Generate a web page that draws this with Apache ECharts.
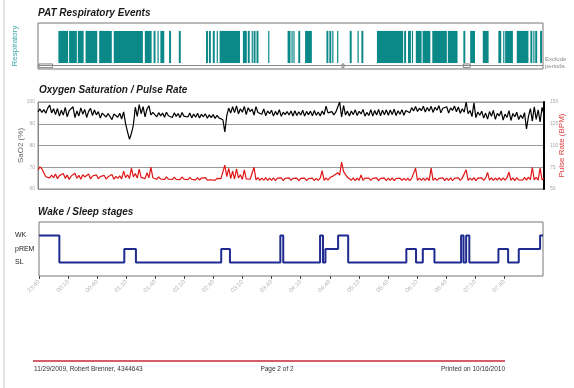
<!DOCTYPE html>
<html><head><meta charset="utf-8">
<script src="https://cdn.jsdelivr.net/npm/echarts@6/dist/echarts.min.js"></script>
<style>html,body{margin:0;padding:0;background:#fff}#c{width:574px;height:388px}</style>
</head><body><div id="c"></div>
<script>
// ---- data (time in minutes from recording start) ----
const tickMinutes = [0,30,60,90,120,150,180,210,240,270,300,330,360,390,420,450,480];
const tickLabels = ['23:40','00:10','00:40','01:10','01:40','02:10','02:40','03:10','03:40','04:10','04:40','05:10','05:40','06:10','06:40','07:10','07:40'];
const respEvents = [[21,31],[32,40],[41,47],[49,61],[63,76],[78,108],[110,117],[119,121],[123,124],[126,130],[135,137],[145,147],
 [173,175],[176,178],[180,182],[184,185],[187,208],[211,215],[216,218],[220,221],[222,224],[225,227],[237,238],
 [257,260],[261,262],[263,264],[268,270],[275,282],[297,299],[300,302],[303,304],[308,309],[321,323],[329,330],[333,335],
 [349,376],[377,379],[381,384],[385,386],[389,395],[396,404],[406,421],[422,432],[438,440],[445,450],[458,464],
 [474,477],[479,480],[481,489],[493,505],[507,509],[510,511],[512,514],[517,519]];
const excludePeriods = [[1,15],[313,314],[438,445]];
const sampleStep = 2;
const sao2 = [95.5,96.8,95.2,96.5,94.8,97.2,98.6,95.0,96.9,94.2,
97.0,93.5,96.2,94.0,97.5,93.2,96.0,95.1,97.8,92.8,
95.9,93.6,97.3,94.4,96.6,92.9,95.7,97.1,93.8,96.3,
94.1,95.6,92.6,94.9,95.8,93.1,94.7,95.4,91.9,94.5,
95.3,93.0,94.8,92.2,95.5,90.1,86.3,82.9,85.6,89.4,
97.6,93.4,98.8,94.6,97.9,93.2,96.8,98.3,94.1,95.2,
94.8,93.2,95.1,93.6,94.9,93.0,95.3,93.7,94.6,92.9,
95.0,93.4,94.7,92.8,95.2,93.5,94.4,93.1,94.9,92.7,
94.5,93.0,94.8,92.6,94.3,93.2,94.6,92.5,94.1,92.8,
94.2,92.4,93.9,92.7,93.6,91.8,86.2,93.8,97.2,94.9,
97.8,95.1,98.2,94.6,96.9,95.3,98.0,94.2,97.4,95.6,
96.7,94.0,97.9,95.2,96.1,94.4,96.8,93.7,95.9,94.6,
96.2,93.5,95.7,94.1,96.5,93.4,95.3,94.2,95.6,94.0,
95.9,93.6,96.0,93.8,95.5,94.0,96.2,93.5,95.7,94.1,
95.8,93.7,96.1,93.9,95.4,93.6,95.9,94.2,98.1,95.0,
94.2,95.6,94.1,95.3,95.0,100.0,93.1,98.4,94.0,95.8,
93.6,95.9,94.2,96.4,93.8,95.7,94.5,96.6,93.5,95.2,
93.8,96.5,93.5,96.1,94.0,96.6,93.7,96.2,94.1,96.4,
93.9,96.3,94.2,96.7,93.8,96.0,94.4,96.5,93.9,96.1,
96.8,95.1,97.4,95.9,97.9,95.6,97.2,96.0,98.1,95.4,
97.5,95.8,98.0,95.2,97.6,96.2,98.3,95.0,97.1,96.4,
97.8,94.9,97.3,96.1,98.2,95.5,97.7,94.8,96.9,95.3,
100.0,94.6,96.1,93.3,99.6,92.8,95.4,93.9,95.8,92.6,
94.9,92.1,95.6,93.4,96.2,92.0,94.8,93.6,95.9,91.7,
94.4,92.9,96.0,91.5,94.7,93.2,95.3,91.9,94.0,92.4,
95.1,87.6,93.3,97.0,91.2,97.8,92.0,96.4,90.8,97.5,
94.3];
const pulse = [72.0,75.5,73.2,68.4,64.1,66.3,62.8,65.9,63.0,67.2,
61.9,65.4,63.6,67.8,62.2,66.0,60.9,64.8,63.1,68.1,
62.4,65.7,61.3,66.5,63.9,62.0,67.3,61.6,64.9,62.7,
66.2,61.8,64.3,63.0,65.6,61.4,64.0,62.5,66.8,61.2,
64.6,62.3,65.2,61.7,70.5,63.1,66.4,62.0,74.0,63.8,
67.9,62.6,72.8,63.4,65.3,61.9,68.6,62.8,75.2,63.0,
63.4,61.2,63.9,61.5,63.1,60.8,64.0,61.3,63.5,60.9,
63.6,61.1,63.2,60.7,63.8,61.4,62.9,60.6,63.3,61.0,
62.8,60.5,63.0,60.3,62.6,60.8,63.1,60.2,62.4,60.6,
62.5,59.9,62.2,60.1,62.0,59.8,77.5,64.2,73.8,62.1,
70.6,61.5,73.2,62.8,66.4,61.0,71.9,61.6,63.4,61.2,
62.8,75.0,60.4,63.1,59.9,62.6,60.2,63.0,59.8,62.5,
60.0,62.9,59.7,62.4,60.3,62.7,59.6,62.2,60.1,62.8,
59.8,62.3,60.2,62.6,59.5,62.1,60.0,62.4,59.7,62.0,
60.1,62.5,59.6,62.2,59.9,62.6,71.0,59.8,62.7,60.3,
63.2,62.0,65.4,64.1,68.7,66.0,81.0,70.2,66.5,63.4,
63.0,60.1,62.8,59.7,62.5,60.0,66.0,59.9,62.4,60.2,
62.6,59.8,62.3,60.1,62.7,59.6,62.2,60.0,62.5,59.7,
62.4,59.9,62.8,59.5,62.1,60.2,62.6,59.8,62.3,60.0,
62.5,59.7,62.2,60.1,74.0,59.8,62.6,60.0,62.4,59.9,
62.7,59.6,74.0,60.0,62.5,59.8,62.3,60.2,62.8,59.7,
62.4,60.0,62.9,59.6,62.2,60.1,62.7,59.8,62.5,60.3,
72.0,59.9,62.6,60.2,63.0,59.7,62.4,60.4,62.8,60.0,
62.5,69.0,60.1,62.9,59.8,62.6,60.3,63.1,59.9,62.7,
60.2,63.0,69.5,60.0,62.8,59.7,63.2,60.4,62.6,60.1,
63.4,60.3,63.6,60.8,75.0,60.5,63.5,60.2,74.0,60.6,
62.0];
const stageNames = {1:'SL', 2:'pREM', 3:'WK'};
const stageTimes  = [0,21,88,100,188,197,249,252,290,293,295.5,308.6,319,379,389,396,408,435.5,438,440.7,444,474,484,495,517,520];
const stageLevels = [3,1,2,1,2,1,3,1,3,1,2,3,1,2,1,2,1,3,1,3,1,2,1,2,3,3];

// ---- chart ----
const FONT = 'Liberation Sans';
const chart = echarts.init(document.getElementById('c'), null, {renderer:'canvas'});
const barTop = 82.8, barBottom = 12.9;
const option = {
  animation:false,
  textStyle:{fontFamily:FONT},
  grid:[
    {left:38, right:31, top:23, height:46, show:true, borderColor:'#777', borderWidth:1, containLabel:false, outerBoundsMode:'none'},
    {left:38, right:30, top:102, height:87, show:true, borderColor:'#888', borderWidth:1, containLabel:false, outerBoundsMode:'none'},
    {left:39, right:31, top:222, height:54, show:true, borderColor:'#777', borderWidth:1, containLabel:false, outerBoundsMode:'none'}
  ],
  xAxis:[
    {gridIndex:0, type:'value', min:0, max:520, show:false},
    {gridIndex:1, type:'value', min:0, max:520, show:false},
    {gridIndex:2, type:'value', min:0, max:520,
     axisLine:{show:false}, splitLine:{show:false},
     axisTick:{show:true, customValues:tickMinutes, length:3, lineStyle:{color:'#444'}},
     axisLabel:{customValues:tickMinutes, formatter:v=>tickLabels[tickMinutes.indexOf(v)]||'', rotate:45, fontSize:6, color:'#b5b5b5', margin:5}}
  ],
  yAxis:[
    {gridIndex:0, type:'value', min:0, max:100, axisLine:{show:false}, axisTick:{show:false}, axisLabel:{show:false}, splitLine:{show:false},
     name:'Respiratory', nameLocation:'middle', nameGap:19, nameRotate:90, nameTextStyle:{color:'#3aa8a8', fontSize:8}},
    {gridIndex:1, type:'value', min:60, max:100, interval:10, position:'left',
     axisLine:{show:true, lineStyle:{color:'#888'}}, axisTick:{show:false},
     axisLabel:{fontSize:5, color:'#aaa', margin:3},
     splitLine:{show:true, lineStyle:{color:'#999', width:1}},
     name:'SaO2 (%)', nameLocation:'middle', nameGap:13, nameRotate:90, nameMoveOverlap:false, nameTextStyle:{color:'#666', fontSize:8}},
    {gridIndex:1, type:'value', min:50, max:150, interval:25, position:'right',
     axisLine:{show:true, lineStyle:{color:'#000', width:2}}, axisTick:{show:false},
     axisLabel:{fontSize:5, color:'#aaa', margin:6},
     splitLine:{show:false},
     name:'Pulse Rate (BPM)', nameLocation:'middle', nameGap:14, nameRotate:90, nameMoveOverlap:false, nameTextStyle:{color:'#e03a3a', fontSize:8}},
    {gridIndex:2, type:'value', min:0, max:4, interval:1,
     axisLine:{show:false}, axisTick:{show:false}, splitLine:{show:false},
     axisLabel:{formatter:v=>stageNames[v]||'', align:'left', margin:24, fontSize:7, color:'#222'}}
  ],
  series:[
    {type:'custom', xAxisIndex:0, yAxisIndex:0, data:respEvents, encode:{x:[0,1]},
     renderItem:function(params, api){
       const s = api.coord([api.value(0), barTop]);
       const e = api.coord([api.value(1), barBottom]);
       return {type:'rect', shape:{x:s[0], y:s[1], width:Math.max(e[0]-s[0],1.2), height:e[1]-s[1]}, style:{fill:'#0b8888'}};
     },
     markLine:{silent:true, symbol:'none', label:{show:false}, lineStyle:{color:'#888', width:1, type:'solid'}, data:[{yAxis:7.7}]}
    },
    {type:'custom', xAxisIndex:0, yAxisIndex:0, data:excludePeriods, encode:{x:[0,1]},
     renderItem:function(params, api){
       const s = api.coord([api.value(0), 11]);
       const e = api.coord([api.value(1), 3]);
       return {type:'rect', shape:{x:s[0], y:s[1], width:Math.max(e[0]-s[0],2), height:e[1]-s[1]}, style:{fill:'#fff', stroke:'#666', lineWidth:0.8}};
     }
    },
    {type:'line', xAxisIndex:1, yAxisIndex:1, data:sao2.map((v,i)=>[i*sampleStep, v]), showSymbol:false,
     lineStyle:{color:'#000', width:1.2}, itemStyle:{color:'#000'}},
    {type:'line', xAxisIndex:1, yAxisIndex:2, data:pulse.map((v,i)=>[i*sampleStep, v]), showSymbol:false,
     lineStyle:{color:'#e01515', width:1.2}, itemStyle:{color:'#e01515'}},
    {type:'line', xAxisIndex:2, yAxisIndex:3, step:'end', data:stageTimes.map((t,i)=>[t, stageLevels[i]]), showSymbol:false,
     lineStyle:{color:'#1f2b8f', width:2}, itemStyle:{color:'#1f2b8f'}}
  ],
  graphic:[
    {type:'line', shape:{x1:4, y1:0, x2:4, y2:388}, style:{stroke:'#d8d8d8', lineWidth:1.5}},
    {type:'text', left:38, top:8, style:{text:'PAT Respiratory Events', font:'italic bold 10px "Liberation Sans"', fill:'#1a1a1a'}},
    {type:'text', left:39, top:85, style:{text:'Oxygen Saturation / Pulse Rate', font:'italic bold 10px "Liberation Sans"', fill:'#1a1a1a'}},
    {type:'text', left:38, top:207, style:{text:'Wake / Sleep stages', font:'italic bold 10px "Liberation Sans"', fill:'#1a1a1a'}},
    {type:'text', left:545, top:56, style:{text:'Exclude\nperiods', font:'6px "Liberation Sans"', fill:'#888', lineHeight:7}},
    {type:'line', shape:{x1:33, y1:361, x2:505, y2:361}, style:{stroke:'#c8283a', lineWidth:1.5}},
    {type:'text', left:34, top:366, style:{text:'11/29/2009, Robert Brenner, 4344643', font:'6.5px "Liberation Sans"', fill:'#333'}},
    {type:'text', x:277, y:366, style:{text:'Page 2 of 2', font:'6.5px "Liberation Sans"', fill:'#333', align:'center'}},
    {type:'text', x:505, y:366, style:{text:'Printed on 10/16/2010', font:'6.5px "Liberation Sans"', fill:'#333', align:'right'}}
  ]
};
chart.setOption(option);
</script>
</body></html>
